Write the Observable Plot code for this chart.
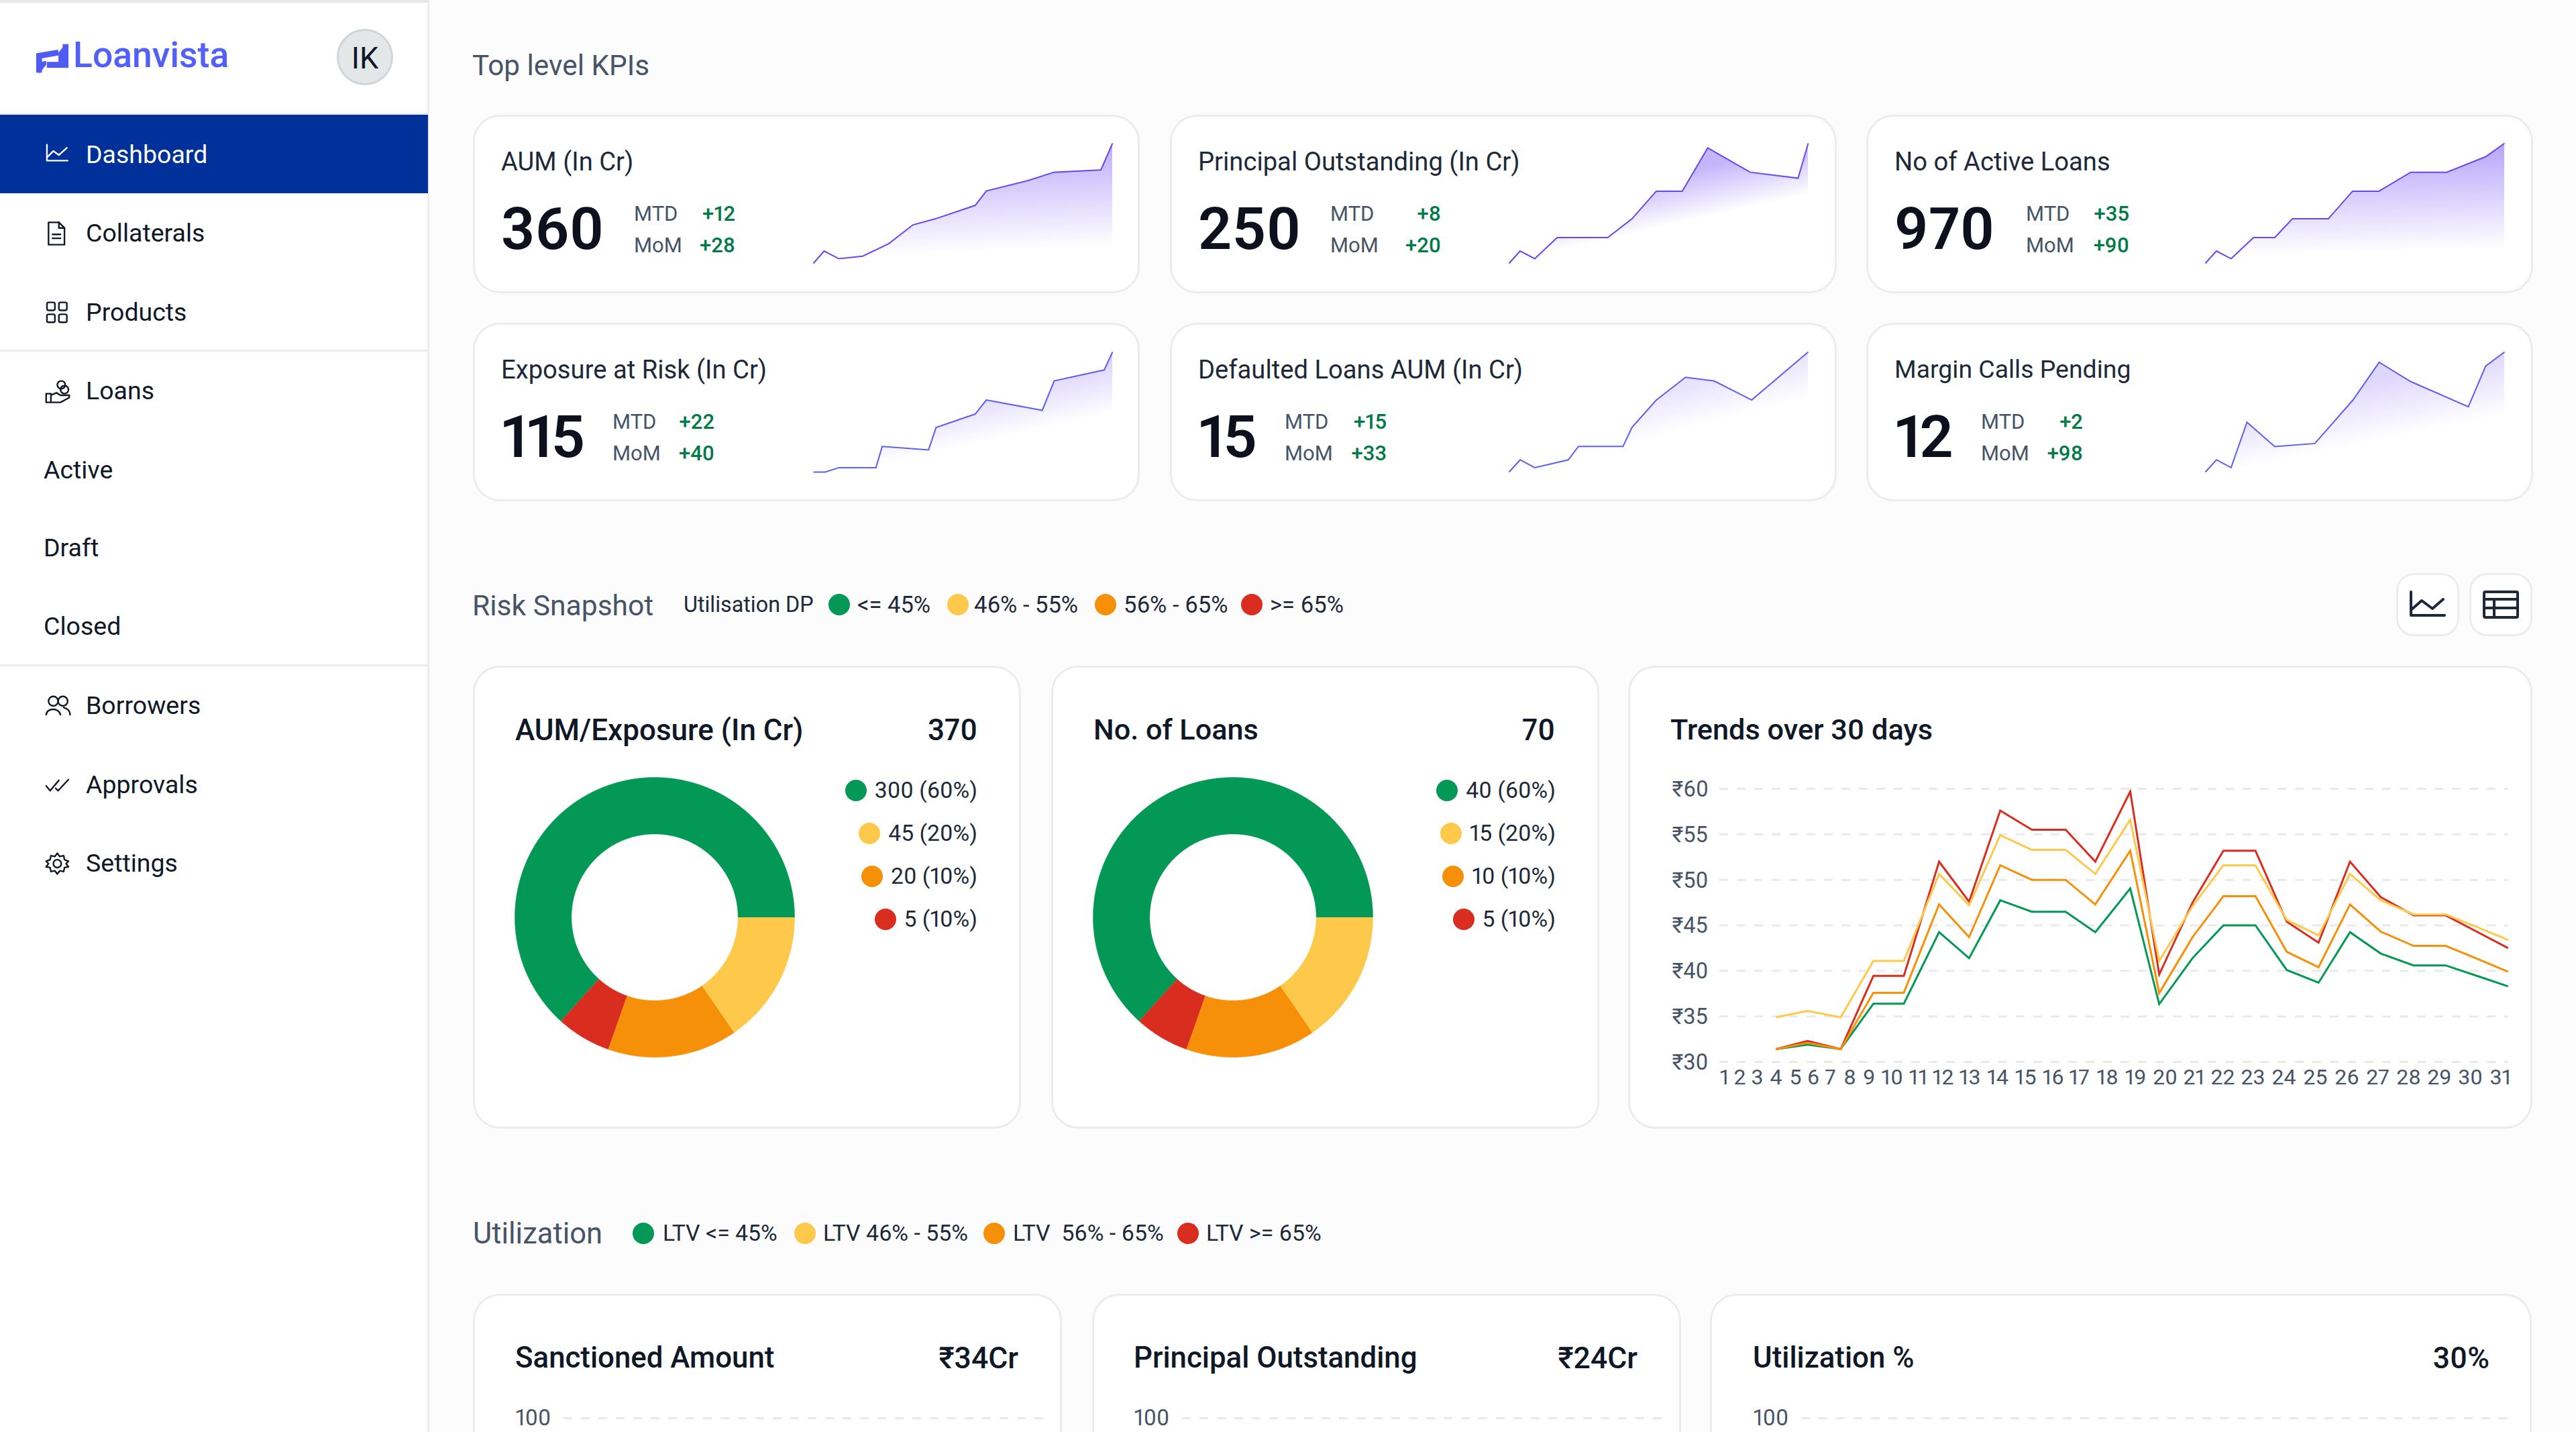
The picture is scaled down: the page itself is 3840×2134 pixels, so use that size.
<!DOCTYPE html>
<html>
<head>
<meta charset="utf-8">
<title>Loanvista dashboard</title>
<script src="https://cdn.jsdelivr.net/npm/d3@7"></script>
<script src="https://cdn.jsdelivr.net/npm/@observablehq/plot@0.6"></script>
<style>
  html, body { margin: 0; padding: 0; background: #fcfcfd; overflow: hidden; }
  #root { position: relative; width: 3840px; height: 2134px; overflow: hidden; background: #fcfcfd;
          font-family: Roboto, "Noto Sans", sans-serif; color: #101828; font-variant-numeric: proportional-nums; }
  #root svg text { font-variant-numeric: proportional-nums; }
  .box { position: absolute; box-sizing: border-box; }
  .card { background: #fff; border: 3px solid #eaecf0; border-radius: 40px; }
  .t { position: absolute; white-space: pre; line-height: 1; }
  .dot { position: absolute; width: 32px; height: 32px; border-radius: 50%; }
  svg.abs { position: absolute; overflow: visible; }
</style>
</head>
<body>
<div id="root"></div>
<script>
// ---------- chart values ----------
const kpiTitles = ["AUM (In Cr)", "Principal Outstanding (In Cr)", "No of Active Loans",
                   "Exposure at Risk (In Cr)", "Defaulted Loans AUM (In Cr)", "Margin Calls Pending"];
const kpiValues = ["360", "250", "970", "115", "15", "12"];
const kpiMtd = ["+12", "+8", "+35", "+22", "+15", "+2"];
const kpiMom = ["+28", "+20", "+90", "+40", "+33", "+98"];

const sparkAumX = [0, 3.6, 8.5, 16.5, 25.2, 33.3, 40.8, 54.1, 57.8, 71.8, 80.4, 96.1, 100];
const sparkAumY = [0, 10.3, 3.9, 6, 16.4, 32.1, 37.1, 48.3, 60.3, 69, 75.9, 77.8, 100];
const sparkPrincipalX = [0, 3.7, 8.6, 16.1, 33, 41.1, 49.2, 57.9, 66.4, 80.6, 96.6, 100];
const sparkPrincipalY = [0, 10.3, 3.9, 21.5, 21.5, 37.1, 60.1, 60.1, 96.1, 75.9, 70.9, 100];
const sparkLoansX = [0, 3.7, 8.6, 16.1, 23.2, 29.1, 41.1, 49.2, 58, 68.6, 80.7, 93.7, 100];
const sparkLoansY = [0, 10.3, 3.9, 21.5, 21.5, 37.1, 37.1, 60.1, 60.1, 75.9, 75.9, 88.8, 100];
const sparkExposureX = [0, 4, 8.5, 20.9, 23, 38.5, 41, 54.1, 57.8, 76.5, 80.5, 97.2, 100];
const sparkExposureY = [0, 0, 3.7, 3.7, 21.3, 18.5, 37.1, 48.3, 60, 51.4, 75.9, 85, 100];
const sparkDefaultedX = [0, 3.7, 8.6, 19.8, 23.2, 38.1, 41.1, 49.2, 59, 68.6, 81.1, 100];
const sparkDefaultedY = [0, 10.2, 3.7, 10.2, 21.4, 21.4, 37.2, 59.9, 78.9, 75.8, 60, 100];
const sparkMarginX = [0, 3.7, 8.6, 13.9, 23.2, 36.6, 49.3, 58.1, 68.6, 87.9, 93.7, 100];
const sparkMarginY = [0, 10.2, 3.7, 41.5, 21.2, 23.8, 59.9, 91.4, 75.4, 54.4, 88.3, 100];

const bandNames = ["low", "mid", "high", "top"];
const bandColors = ["#039855", "#fec84b", "#f79009", "#d92d20"];
const sliceShares = [63.3, 15.4, 15.0, 6.3];
const aumLegend = ["300 (60%)", "45 (20%)", "20 (10%)", "5 (10%)"];
const loansLegend = ["40 (60%)", "15 (20%)", "10 (10%)", "5 (10%)"];

const trendDays = d3.range(1, 32);
const trendPointDays = [4, 5.68, 7.53, 9.18, 10.45, 11.84, 12.97, 14.09, 15.23, 16.48, 17.57, 18.81,
                        19.8, 20.95, 22.02, 23.08, 24.09, 25.1, 26.1, 27.1, 28.16, 29.2, 30.22, 31.25];
const trendLow = [31.4, 31.9, 31.4, 36.4, 36.4, 44.25, 41.4, 47.75, 46.5, 46.5, 44.25, 49.05,
                  36.35, 41.4, 45, 45, 40.1, 38.7, 44.25, 41.9, 40.6, 40.6, 39.45, 38.3];
const trendMid = [34.9, 35.6, 34.9, 41.1, 41.1, 50.65, 47.2, 54.9, 53.3, 53.3, 50.65, 56.6,
                  41.1, 47.1, 51.6, 51.6, 45.6, 43.9, 50.65, 47.75, 46.2, 46.2, 44.8, 43.4];
const trendHigh = [31.4, 32.1, 31.4, 37.6, 37.6, 47.3, 43.7, 51.6, 50, 50, 47.3, 53.2,
                   37.55, 43.7, 48.2, 48.2, 42.1, 40.4, 47.3, 44.3, 42.75, 42.75, 41.35, 39.9];
const trendTop = [31.4, 32.3, 31.4, 39.45, 39.45, 52, 47.6, 57.6, 55.5, 55.5, 52, 59.7,
                  39.6, 47.5, 53.2, 53.2, 45.4, 43.1, 52, 48.1, 46.1, 46.1, 44.3, 42.5];
const trendTicks = [30, 35, 40, 45, 50, 55, 60];

const menuItems = ["Dashboard", "Collaterals", "Products", "Loans", "Active", "Draft", "Closed", "Borrowers", "Approvals", "Settings"];
const riskLegend = ["<= 45%", "46% - 55%", "56% - 65%", ">= 65%"];
const utilLegend = ["LTV <= 45%", "LTV 46% - 55%", "LTV  56% - 65%", "LTV >= 65%"];
const utilTitles = ["Sanctioned Amount", "Principal Outstanding", "Utilization %"];
const utilTotals = ["₹34Cr", "₹24Cr", "30%"];
const utilTicks = [100];

// ---------- page helpers ----------
const FONT = 'Roboto, "Noto Sans", sans-serif';
const root = document.getElementById("root");
function box(cls, x, y, w, h, extra = "") {
  const d = document.createElement("div");
  d.className = cls; d.style.cssText = `left:${x}px;top:${y}px;width:${w}px;height:${h}px;${extra}`;
  root.appendChild(d); return d;
}
function text(str, x, cy, size, color, weight = 400, anchor = "left") {
  const d = document.createElement("div");
  d.className = "t"; d.textContent = str;
  const tx = anchor === "right" ? "-100%" : anchor === "center" ? "-50%" : "0";
  d.style.cssText = `left:${x}px;top:${cy}px;font-size:${size}px;color:${color};font-weight:${weight};transform:translate(${tx},-50%);`;
  root.appendChild(d); return d;
}
function dot(cx, cy, color) {
  const d = document.createElement("div");
  d.className = "dot"; d.style.cssText = `left:${cx - 16}px;top:${cy - 16}px;background:${color};`;
  root.appendChild(d);
}
function icon(inner, x, y, w, h, vb, color, sw = 2) {
  const d = document.createElement("div");
  d.style.cssText = `position:absolute;left:${x}px;top:${y}px;width:${w}px;height:${h}px;`;
  d.innerHTML = `<svg width="${w}" height="${h}" viewBox="${vb}" fill="none" stroke="${color}" stroke-width="${sw}" stroke-linecap="round" stroke-linejoin="round">${inner}</svg>`;
  root.appendChild(d);
}
function place(svg, x, y) {
  svg.classList.add("abs");
  svg.style.left = x + "px"; svg.style.top = y + "px";
  root.appendChild(svg);
}

// ---------- sidebar ----------
box("box", 0, 0, 640, 2134, "background:#fff;border-right:3px solid #eaecf0;");
box("box", 0, 0, 640, 4, "background:#e6e7e9;");
box("box", 0, 168, 640, 3, "background:#eaecf0;");
box("box", 0, 171, 638, 117, "background:#00309a;");
box("box", 0, 521, 638, 3, "background:#eaecf0;");
box("box", 0, 990, 638, 3, "background:#eaecf0;");
icon(`<path d="M3 48 V22 L33 17 M15 36 H44 V4" stroke-linecap="butt" stroke-linejoin="miter"/><path d="M3 50 L14 36 V30 L3 32 Z M33 17 L44 4 V30 L33 34 Z" fill="#4f5bf5" stroke="none"/>`, 52, 62, 52, 50, "0 0 47 52", "#4f5bf5", 9);
text("Loanvista", 109, 82, 53.5, "#5160f6", 500);
box("box", 502, 43, 84, 84, "background:#e4e7e7;border:3px solid #d0d5dd;border-radius:50%;");
text("IK", 544, 86, 45, "#101828", 400, "center");

const menuY = [231, 348, 466, 583, 701, 817, 934, 1052, 1170, 1287];
const iconCharts = [
  `<path d="M3 3 V23 H29"/><path d="M3 19 L11 11 L18 16 L28 7"/>`,
  `<path d="M5 2 H18 L25 9 V30 H5 Z"/><path d="M18 2 V9 H25"/><path d="M10 17 H20 M10 22 H20"/>`,
  `<rect x="3" y="3" width="10" height="10" rx="2"/><rect x="18" y="3" width="10" height="10" rx="2"/><rect x="3" y="18" width="10" height="10" rx="2"/><rect x="18" y="18" width="10" height="10" rx="2"/>`,
  `<circle cx="21" cy="8" r="5"/><circle cx="25" cy="14" r="5"/><path d="M2 19 H8 V30 H2 Z M8 21 L15 18 L20 21 H25 L31 21 V24 L20 30 H8"/>`,
  null, null, null,
  `<circle cx="11" cy="10" r="6"/><circle cx="23" cy="10" r="6"/><path d="M2 27 C3 18 18 18 20 27 M24 18 C28 19 32 22 32 27"/>`,
  `<path d="M2 17 L7 23 L18 10 M14 20 L17 23 L30 9"/>`,
  `<circle cx="16" cy="16" r="5"/><path d="M16 3 L19 7 L24 6 L25 11 L30 13 L27 16 L30 20 L25 21 L24 26 L19 25 L16 29 L13 25 L8 26 L7 21 L2 20 L5 16 L2 13 L7 11 L8 6 L13 7 Z"/>`
];
menuItems.forEach((m, i) => {
  const active = i === 0;
  const col = active ? "#ffffff" : "#101828";
  const plain = iconCharts[i] === null;
  text(m, plain ? 65 : 128, menuY[i], 37.5, col, 400);
  if (!plain) icon(iconCharts[i], 66, menuY[i] - 19, 40, 38, "0 0 33 32", col, 2);
});

// ---------- section headers ----------
text("Top level KPIs", 704, 98, 42.3, "#475467");
text("Risk Snapshot", 704, 902, 42.6, "#475467");
text("Utilisation DP", 1019, 901, 32.3, "#1d2939");
[1251, 1428, 1648, 1866].forEach((x, i) => dot(x, 901, bandColors[i]));
[1278, 1452, 1675, 1893].forEach((x, i) => text(riskLegend[i], x, 901, 34.5, "#1d2939"));
text("Utilization", 705, 1839, 43.5, "#475467");
[959, 1200, 1482, 1771].forEach((x, i) => dot(x, 1838, bandColors[i]));
[988, 1227, 1510, 1798].forEach((x, i) => text(utilLegend[i], x, 1838, 33.8, "#1d2939"));

box("box card", 3572, 854, 94, 94, "border-radius:26px;");
box("box card", 3681, 854, 94, 94, "border-radius:26px;");
icon(`<path d="M4 3 V38 H54"/><path d="M4 30 L20 16 L36 28 L52 14"/>`, 3590, 878, 58, 44, "0 0 58 42", "#1d2939", 4);
icon(`<rect x="2" y="2" width="50" height="38" rx="2"/><path d="M2 13 H52 M2 26 H52 M17 13 V40"/>`, 3700, 880, 56, 42, "0 0 54 42", "#1d2939", 4);

// ---------- KPI cards ----------
const kpiCardX = [705, 1744, 2782], kpiCardY = [171, 481];
const kpiStatX = [945, 1983, 3020, 913, 1915, 2953];
const kpiStatR = [1096, 2148, 3174, 1065, 2067, 3105];
const kpiValueTrack = [0, .5, 0, -4, -4, -4];
const sparkXs = [sparkAumX, sparkPrincipalX, sparkLoansX, sparkExposureX, sparkDefaultedX, sparkMarginX];
const sparkYs = [sparkAumY, sparkPrincipalY, sparkLoansY, sparkExposureY, sparkDefaultedY, sparkMarginY];
const sparkLeft = [1211.7, 2249.3, 3287.3, 1211.7, 2249.3, 3287.3];
const sparkFade = [[3, 14, .5], [1, 57, .45], [5, 12, .55], [-7, 49, .3], [-3, 62, .18], [-3, 47, .25]];
const sparkStroke = ["#6a45f2", "#6a45f2", "#6a45f2", "#5f5df3", "#5f5df3", "#5f5df3"];

kpiTitles.forEach((title, i) => {
  const col = i % 3, row = i < 3 ? 0 : 1;
  const cx = kpiCardX[col], cy = kpiCardY[row];
  box("box card", cx, cy, 994, 266);
  const textX = cx + 42;
  text(title, textX, cy + 70, i === 5 ? 37.4 : 38.2, "#1d2939");
  text(kpiValues[i], textX, cy + 170, 88, "#0c111d", 600).style.letterSpacing = kpiValueTrack[i] + "px";
  text("MTD", kpiStatX[i], cy + 146.5, 31, "#475467");
  text("MoM", kpiStatX[i], cy + 194, 31, "#475467");
  text(kpiMtd[i], kpiStatR[i], cy + 146.5, 31, "#027a48", 500, "right");
  text(kpiMom[i], kpiStatR[i], cy + 194, 31, "#027a48", 500, "right");

  const rows = sparkXs[i].map((x, k) => ({x, y: sparkYs[i][k]}));
  const gid = "sparkFade" + i;
  const [fadeL, fadeR, alpha] = sparkFade[i];
  const spark = Plot.plot({
    width: 454, height: 187, margin: 4,
    x: {domain: [0, 100], axis: null},
    y: {domain: [0, 100], axis: null},
    style: {background: "transparent", overflow: "visible"},
    marks: [
      (index, {x: X, y: Y}) => {
        const peak = rows.reduce((a, b) => (b.y >= a.y ? b : a));
        const px = X(peak.x), py = Y(peak.y);
        const ax = X(0), ay = Y(fadeL), bx = X(100), by = Y(fadeR);
        const dx = bx - ax, dy = by - ay;
        const u = ((px - ax) * dx + (py - ay) * dy) / (dx * dx + dy * dy);
        const defs = d3.create("svg:defs");
        const g = defs.append("linearGradient").attr("id", gid).attr("gradientUnits", "userSpaceOnUse")
          .attr("x1", px).attr("y1", py).attr("x2", ax + u * dx).attr("y2", ay + u * dy);
        g.append("stop").attr("offset", 0).attr("stop-color", "#7a5af8").attr("stop-opacity", alpha);
        g.append("stop").attr("offset", 1).attr("stop-color", "#7a5af8").attr("stop-opacity", 0);
        return defs.node();
      },
      Plot.areaY(rows, {x: "x", y: "y", fill: `url(#${gid})`}),
      Plot.line(rows, {x: "x", y: "y", stroke: sparkStroke[i], strokeWidth: 2, strokeLinejoin: "miter", strokeMiterlimit: 4, strokeLinecap: "butt"})
    ]
  });
  place(spark, sparkLeft[i] - 4, cy + 42 - 4 + (row ? .7 : 0));
});

// ---------- donut cards ----------
const donutColor = {domain: bandNames, range: bandColors};
function donutPolygon() {
  const rows = [];
  const total = d3.sum(sliceShares);
  const inner = 124 / 208.3;
  let start = -360 * sliceShares[0] / total;
  sliceShares.forEach((share, i) => {
    const sweep = 360 * share / total;
    const steps = Math.ceil(sweep * 2);
    const at = (r, deg) => ({band: bandNames[i], x: r * Math.cos(deg * Math.PI / 180), y: r * Math.sin(deg * Math.PI / 180)});
    for (let k = 0; k <= steps; ++k) rows.push(at(1, start + sweep * k / steps));
    for (let k = steps; k >= 0; --k) rows.push(at(inner, start + sweep * k / steps));
    start += sweep;
  });
  return rows;
}
function donut() {
  return Plot.plot({
    width: 417, height: 417, margin: 0,
    x: {domain: [-1, 1], range: [0, 417], axis: null},
    y: {domain: [-1, 1], range: [0, 417], axis: null},
    color: donutColor,
    style: {background: "transparent", overflow: "visible"},
    marks: [Plot.line(donutPolygon(), {x: "x", y: "y", z: "band", fill: "band", stroke: "band", strokeWidth: .5, curve: "linear"})]
  });
}
box("box card", 705, 992, 817, 690);
box("box card", 1567, 992, 817, 690);
box("box card", 2427, 992, 1348, 690);
text("AUM/Exposure (In Cr)", 768, 1088, 44, "#101828", 500);
text("370", 1457, 1088, 44, "#101828", 500, "right");
text("No. of Loans", 1630, 1088, 43.2, "#101828", 500);
text("70", 2318, 1088, 44, "#101828", 500, "right");
place(donut(), 975.5 - 208.5, 1366 - 208.5);
place(donut(), 1837 - 208.5, 1366 - 208.5);
function donutLegend(labels, right) {
  const ys = [1178, 1242, 1306, 1370];
  labels.forEach((l, i) => {
    const t = text(l, right, ys[i], 33.7, "#1d2939", 400, "right");
    dot(right - t.getBoundingClientRect().width - 28, ys[i], bandColors[i]);
  });
}
donutLegend(aumLegend, 1457);
donutLegend(loansLegend, 2319);

// ---------- trends chart ----------
text("Trends over 30 days", 2490, 1088, 43.3, "#101828", 500);
const TX = 2470, TY = 1150;
const tickPixel = [2570, 2593, 2619, 2647, 2676, 2702.5, 2728, 2757, 2786, 2820, 2859, 2896, 2936, 2977.5, 3019, 3060,
                   3099, 3141, 3183, 3227, 3270, 3313, 3358, 3404, 3451, 3498, 3544, 3590, 3636, 3682, 3727].map(p => p - TX);
const trendRows = [["top", trendTop], ["low", trendLow], ["mid", trendMid], ["high", trendHigh]]
  .flatMap(([band, vals]) => vals.map((value, k) => ({band, day: trendPointDays[k], value})));
place(Plot.plot({
  width: 1290, height: 490, marginTop: 25, marginBottom: 58, marginLeft: 93, marginRight: 21.5,
  x: {type: "linear", domain: trendDays, range: tickPixel, label: null},
  y: {domain: [30, 60], label: null},
  color: donutColor,
  style: {background: "transparent", fontFamily: FONT, fontSize: "32px", color: "#475467", overflow: "visible"},
  marks: [
    Plot.ruleY(trendTicks, {stroke: "#e8e9eb", strokeWidth: 3, strokeDasharray: "13,13"}),
    Plot.axisX({ticks: trendDays, tickSize: 0, tickPadding: 11, label: null, tickFormat: d => String(d), fontSize: 32}),
    Plot.axisY({ticks: trendTicks, tickSize: 0, tickPadding: 71, dy: 1, textAnchor: "start", label: null, tickFormat: d => "₹" + d, fontSize: 32.5}),
    Plot.line(trendRows, {x: "day", y: "value", z: "band", stroke: "band", strokeWidth: 3, curve: "linear", strokeLinejoin: "miter", strokeMiterlimit: 4, strokeLinecap: "butt"})
  ]
}), TX, TY);

// ---------- utilization cards ----------
const utilCardX = [705, 1628, 2549], utilCardW = [878, 878, 1225];
const utilTitleX = [768, 1690, 2613], utilTotalR = [1518, 2441, 3711];
const utilGridR = [1561, 2484, 3748];
utilTitles.forEach((t, i) => {
  box("box card", utilCardX[i], 1928, utilCardW[i], 400);
  text(t, utilTitleX[i], 2024, 43.8, "#101828", 500);
  text(utilTotals[i], utilTotalR[i], 2024, 44.5, "#101828", 500, "right");
  place(Plot.plot({
    width: utilGridR[i] - utilTitleX[i] + 10, height: 400, marginTop: 25, marginBottom: 20, marginLeft: 72, marginRight: 10,
    y: {domain: [0, 100], label: null},
    style: {background: "transparent", fontFamily: FONT, fontSize: "31px", color: "#475467", overflow: "visible"},
    marks: [
      Plot.ruleY(utilTicks, {stroke: "#e8e9eb", strokeWidth: 3, strokeDasharray: "13,13"}),
      Plot.axisY({ticks: utilTicks, tickSize: 0, tickPadding: 72, textAnchor: "start", label: null, fontSize: 33})
    ]
  }), utilTitleX[i], 2088);
});
</script>
</body>
</html>
